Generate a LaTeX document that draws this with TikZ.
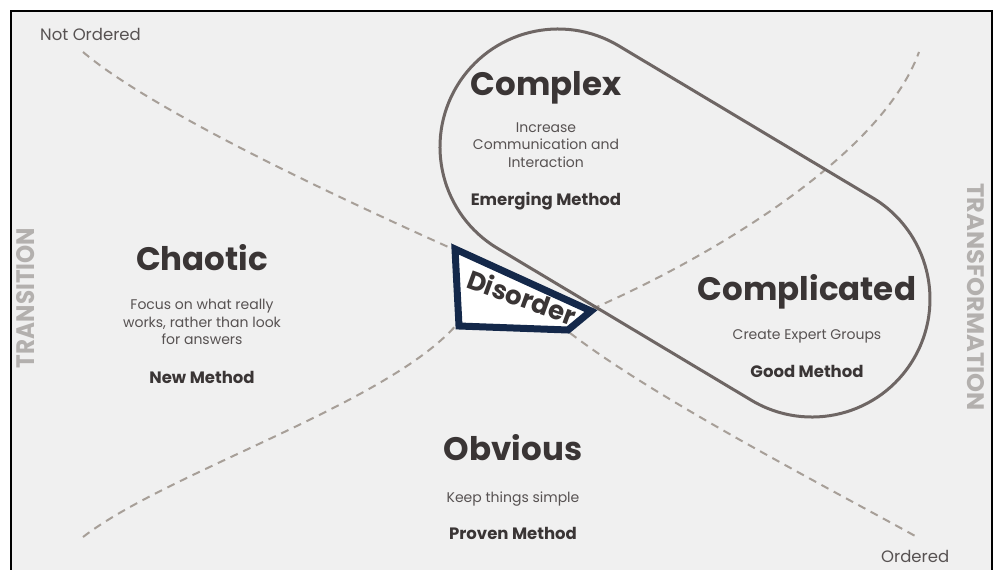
\documentclass[tikz,border=0pt]{standalone}
\usepackage{fontspec}
\setmainfont{Poppins}
\usepackage{graphicx}
\definecolor{bgc}{HTML}{F0F0F0}
\definecolor{txt}{HTML}{3A3535}
\definecolor{smalltxt}{HTML}{575252}
\definecolor{capsule}{HTML}{6E6664}
\definecolor{dashc}{HTML}{A79F98}
\definecolor{navy}{HTML}{14284A}
\definecolor{sidec}{HTML}{B3B0AE}
\tikzset{
  title/.style={font=\bfseries\fontsize{32.5}{36}\selectfont, text=txt, anchor=base, inner sep=0},
  small/.style={font=\fontsize{14}{17.5}\selectfont, text=smalltxt, align=center, inner sep=0},
  method/.style={font=\bfseries\fontsize{16.5}{19}\selectfont, text=txt, anchor=base, inner sep=0},
  corner/.style={font=\fontsize{16.5}{18}\selectfont, text=smalltxt, anchor=base west, inner sep=0},
  side/.style={font=\bfseries, text=sidec, inner sep=0},
  dashline/.style={draw=dashc, line width=2pt, dash pattern=on 8pt off 6pt},
  capline/.style={draw=capsule, line width=3pt},
  disbox/.style={draw=navy, line width=7pt, fill=white, line join=miter}
}
\begin{document}
\begin{tikzpicture}[x=1pt,y=-1pt]
\useasboundingbox (0,0) rectangle (994,570);
\fill[white] (0,0) rectangle (994,570);
\fill[bgc] (11,11) rectangle (992,570);
\draw[black, line width=1.2pt] (11,570) -- (11,11) -- (992,11) -- (992,570);

% dashed curves
\coordinate (no) at (83,52);
\coordinate (dA) at (455,250);
\coordinate (dB) at (570,333);
\coordinate (ord) at (917,537);
\coordinate (bl) at (83,537);
\coordinate (dC) at (462,318);
\coordinate (dD) at (592,309);
\coordinate (tr) at (919,52);
\draw[dashline] (no) .. controls (150,109) and (330,194) .. (dA);
\draw[dashline] (dB) .. controls (655,398) and (810,478) .. (ord);
\draw[dashline] (bl) .. controls (170,470) and (400,400) .. (dC);
\draw[dashline] (dD) .. controls (700,262) and (880,160) .. (tr);

% capsule
\begin{scope}[shift={(558,147)}, rotate=-30.9]
  \draw[capline, rounded corners=118pt] (-118,-118) rectangle (414,118);
\end{scope}

% disorder
\draw[disbox] (455,249) -- (459,326) -- (568,330) -- (591,311) -- cycle;
\node[font=\bfseries\fontsize{26}{28}\selectfont, text=txt, rotate=-20, inner sep=0] (disorder) at (522,297) {Disorder};

% corner labels
\node[corner] (notord) at (40,40) {Not Ordered};
\node[corner] (ordered) at (881,562) {Ordered};

% side labels
\node[side, rotate=90] (transition) at (26,298) {\resizebox{140pt}{18pt}{TRANSITION}};
\node[side, rotate=-90] (transformation) at (976,297) {\resizebox{227pt}{17pt}{TRANSFORMATION}};

% Complex
\node[title] (complex) at (546,95) {Complex};
\node[small] (complexd) at (546,145) {Increase\\Communication and\\Interaction};
\node[method] (complexm) at (546,205) {Emerging Method};

% Chaotic
\node[title] (chaotic) at (202,270) {Chaotic};
\node[small] (chaoticd) at (202,322) {Focus on what really\\works, rather than look\\for answers};
\node[method] (chaoticm) at (202,383) {New Method};

% Complicated
\node[title] (complicated) at (807,300) {Complicated};
\node[small, anchor=base] (complicatedd) at (807,339) {Create Expert Groups};
\node[method] (complicatedm) at (807,377) {Good Method};

% Obvious
\node[title] (obvious) at (513,460) {Obvious};
\node[small, anchor=base] (obviousd) at (513,502) {Keep things simple};
\node[method] (obviousm) at (513,539) {Proven Method};
\end{tikzpicture}
\end{document}
